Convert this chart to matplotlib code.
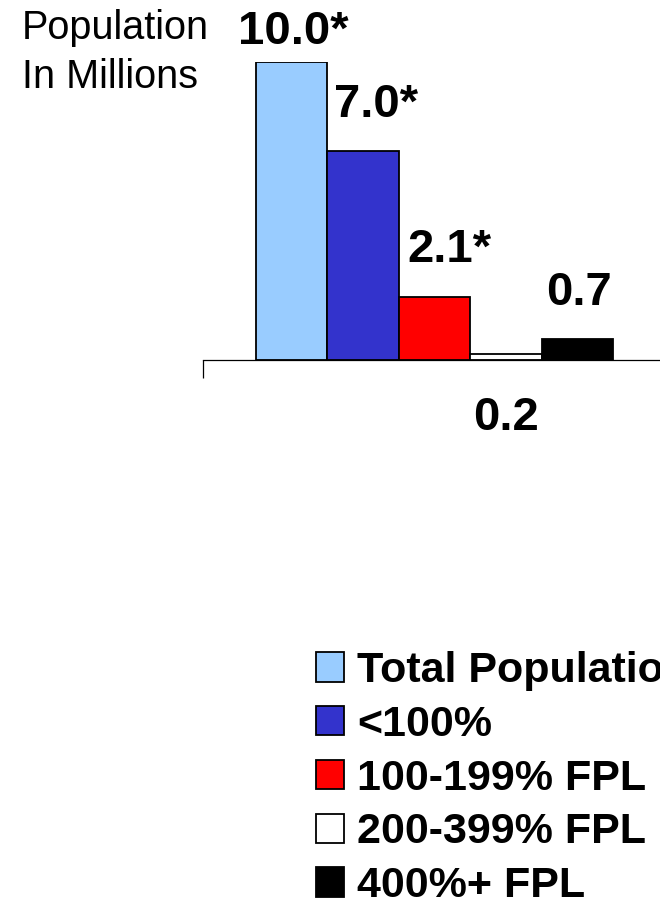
import matplotlib
matplotlib.use('Agg')
from matplotlib import pyplot as plt

plt.rcParams['font.family'] = ['Liberation Sans', 'DejaVu Sans']

# datos del grafico
grupos = ['Total Population', '<100%', '100-199% FPL', '200-399% FPL', '400%+ FPL']
valores = [10.0, 7.0, 2.1, 0.2, 0.7]
etiquetas = ['10.0*', '7.0*', '2.1*', '0.2', '0.7']
colores = ['#99CCFF', '#3333CC', '#FF0000', '#FFFFFF', '#000000']

# desplazamiento de cada etiqueta en pixeles (x, y de la linea base)
dx = [2, 13, 15, 0, 1]
dy = [18, 34, 35, -76, 34]

fig = plt.figure(figsize=(6.6, 9.09), dpi=100)
ax = fig.add_axes([203 / 660, 1 - 360 / 909, 463 / 660, 298 / 909])

posiciones = list(range(len(valores)))
barras = ax.bar(posiciones, valores, width=1.0, color=colores,
                edgecolor='black', linewidth=1.3, label=grupos)

ax.set_xlim(-1.241, 5.235)
ax.set_ylim(0, 10)

for i, v in enumerate(valores):
    ax.annotate(etiquetas[i], xy=(posiciones[i], v),
                xytext=(dx[i], dy[i]), textcoords='offset pixels',
                ha='center', va='baseline', fontsize=34, fontweight='bold',
                annotation_clip=False)

for lado in ['top', 'right', 'left']:
    ax.spines[lado].set_visible(False)
ax.spines['bottom'].set_linewidth(0.9)
ax.set_yticks([])
ax.set_xticks([-1.241, 5.235])
ax.set_xticklabels([])
ax.tick_params(axis='x', direction='out', length=13, width=0.9)

fig.text(22 / 660, 1 - 39 / 909, 'Population', fontsize=28.5, va='baseline')
fig.text(22 / 660, 1 - 88 / 909, 'In Millions', fontsize=28.5, va='baseline')

# la leyenda queda cortada a la derecha, igual que en el original
fig.legend(handles=barras.patches, labels=grupos, loc='upper left',
           bbox_to_anchor=(316 / 660, 1 - 651 / 909), frameon=False,
           prop={'size': 31, 'weight': 'bold'}, handlelength=0.65,
           handleheight=0.67, handletextpad=0.3, labelspacing=0.32,
           borderpad=0, borderaxespad=0)

fig.savefig('out.png', dpi=100)
